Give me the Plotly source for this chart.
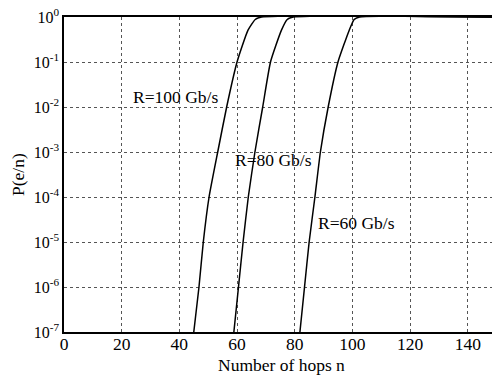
import plotly.graph_objects as go

# Curve data: hop count n vs probability P(e/n)
n_100 = [45.0, 46.8, 48.3, 50.3, 53.3, 56.4, 60.0, 63.8, 66.3, 68.5, 150]
p_100 = [1e-7, 1e-6, 1e-5, 1e-4, 1e-3, 1e-2, 1e-1, 0.51, 0.88, 1.0, 1.0]

n_80 = [58.9, 60.5, 62.1, 63.9, 66.2, 68.9, 71.6, 75.4, 77.4, 79.5, 150]
p_80 = [1e-7, 1e-6, 1e-5, 1e-4, 1e-3, 1e-2, 1e-1, 0.51, 0.88, 1.0, 1.0]

n_60 = [81.8, 83.4, 85.0, 87.0, 88.9, 91.6, 95.0, 98.9, 100.6, 102.5, 150]
p_60 = [1e-7, 1e-6, 1e-5, 1e-4, 1e-3, 1e-2, 1e-1, 0.51, 0.88, 1.0, 1.0]

labels = ["R=100 Gb/s", "R=80 Gb/s", "R=60 Gb/s"]
label_n = [38.8, 72.6, 101.4]
label_logp = [-1.78, -3.18, -4.58]

x_ticks = [0, 20, 40, 60, 80, 100, 120, 140]
y_exps = [0, -1, -2, -3, -4, -5, -6, -7]

FONT = "Liberation Serif"

W, H = 492, 375
l, t, r = 64, 17, 0
b = H - 332
pw, ph = W - l - r, H - t - b


def px_to_paper(sx, sy):
    return (sx - l) / pw, (H - sy - b) / ph


fig = go.Figure()
for xs, ys in [(n_100, p_100), (n_80, p_80), (n_60, p_60)]:
    fig.add_trace(go.Scatter(x=xs, y=ys, mode="lines",
                             line=dict(color="black", width=1.5, shape="spline", smoothing=0.5),
                             showlegend=False, hoverinfo="skip"))

for txt, xv, yv in zip(labels, label_n, label_logp):
    fig.add_annotation(x=xv, y=yv, xref="x", yref="y", text=txt, showarrow=False,
                       xanchor="center", yanchor="middle",
                       font=dict(family=FONT, size=17.5, color="black"))

ax, ay = px_to_paper(281, 365)
fig.add_annotation(x=ax, y=ay, xref="paper", yref="paper", text="Number of hops n",
                   showarrow=False, xanchor="center", yanchor="middle",
                   font=dict(family=FONT, size=17.5, color="black"))
ax, ay = px_to_paper(18, 175)
fig.add_annotation(x=ax, y=ay, xref="paper", yref="paper", text="P(e/n)", textangle=-90,
                   showarrow=False, xanchor="center", yanchor="middle",
                   font=dict(family=FONT, size=17.5, color="black"))

fig.update_layout(
    width=W, height=H,
    margin=dict(l=l, r=r, t=t, b=b, autoexpand=False),
    paper_bgcolor="white", plot_bgcolor="white",
    font=dict(family=FONT, size=16, color="black"),
    hovermode=False,
    xaxis=dict(range=[0, 148.4], tickvals=x_ticks, ticktext=[str(v) for v in x_ticks],
               showline=True, linecolor="black", linewidth=1.5, mirror=True,
               showgrid=True, gridcolor="#555", griddash="dot", gridwidth=1,
               ticks="", zeroline=False, tickfont=dict(size=17.5),
               ticklabelstandoff=-5, ticklabeloverflow="allow"),
    yaxis=dict(type="log", range=[-7, 0], tickvals=[10**e for e in y_exps],
               ticktext=["10<sup>%d</sup>" % e if e == 0 else "10<sup>-%d</sup>" % (-e) for e in y_exps],
               showline=True, linecolor="black", linewidth=1.5,
               showgrid=True, gridcolor="#555", griddash="dot", gridwidth=1,
               ticks="", zeroline=False, tickfont=dict(size=16),
               ticklabeloverflow="allow"),
)

# remove the default page margin so the figure sits at the window's top-left corner
fig.write_html("out.html", config={"displayModeBar": False},
               post_script="document.body.style.margin='0px';")
